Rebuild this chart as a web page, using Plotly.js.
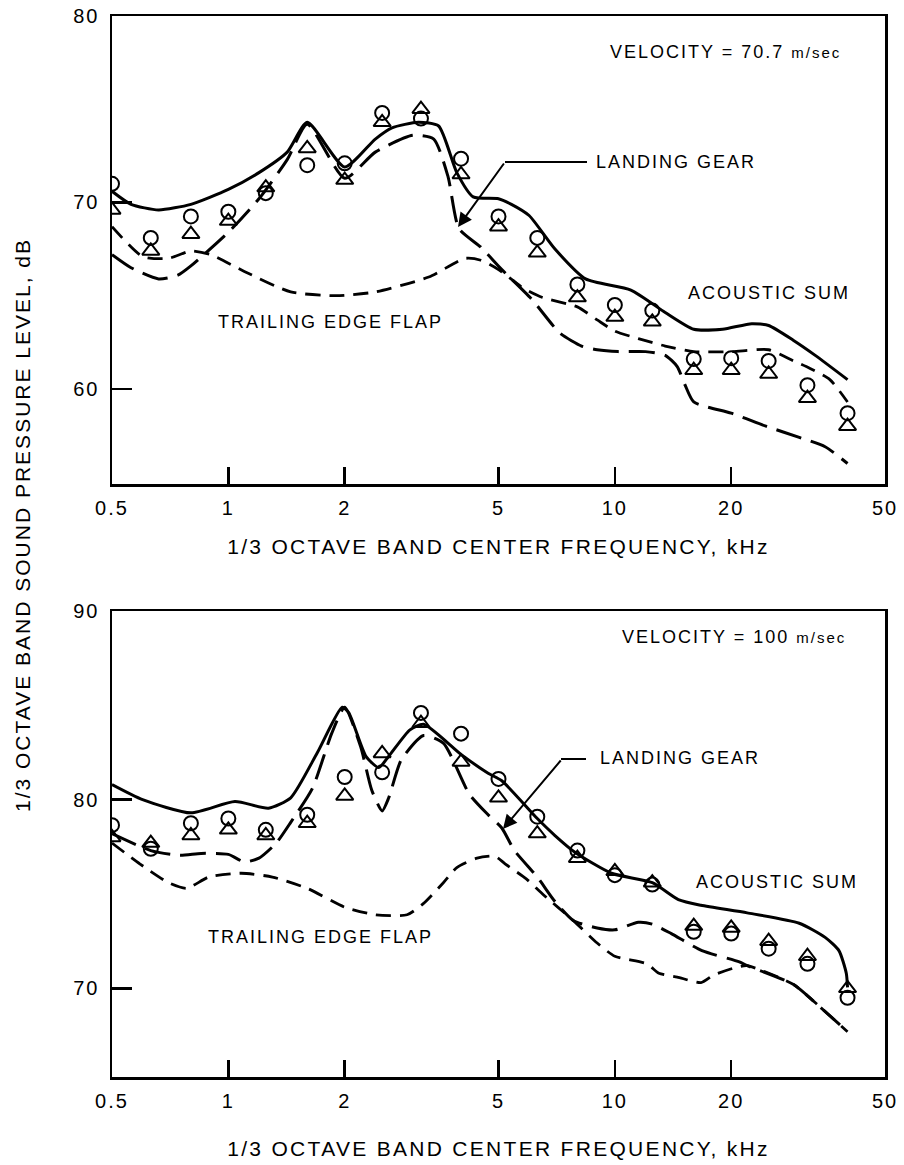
<!DOCTYPE html>
<html><head><meta charset="utf-8">
<script src="https://cdn.plot.ly/plotly-3.0.1.min.js"></script>
<style>
html,body{margin:0;padding:0;background:#fff;}
#chart{width:904px;height:1165px;}
.main-svg text{letter-spacing:2px;}
.main-svg .xtitle, .main-svg .x2title{letter-spacing:2.3px;}
</style></head><body><div id="chart"></div>
<script>
// 1/3 octave band centre frequencies, kHz
const bands = [0.5, 0.63, 0.8, 1, 1.25, 1.6, 2, 2.5, 3.15, 4, 5, 6.3, 8, 10, 12.5, 16, 20, 25, 31.5, 40];
const xTickVals = [0.5, 1, 2, 5, 10, 20, 50];
const xTickText = ['0.5', '1', '2', '5', '10', '20', '50'];

// ---- Velocity = 70.7 m/sec ----
const circles1 = [71.0, 68.1, 69.25, 69.5, 70.5, 72.0, 72.1, 74.8, 74.5, 72.35, 69.25, 68.1, 65.6, 64.5, 64.2, 61.6, 61.65, 61.5, 60.2, 58.7];
const triangles1 = [69.6, 67.4, 68.3, 69.0, 70.8, 72.9, 71.2, 74.3, 75.0, 71.5, 68.7, 67.3, 64.9, 63.85, 63.6, 61.0, 61.0, 60.8, 59.5, 58.0];
const sumF1 = [0.5, 0.56, 0.66, 0.8, 1.0, 1.2, 1.42, 1.6, 2.0, 2.4, 2.65, 3.1, 3.5, 3.9, 4.3, 5.0, 5.4, 6.0, 7.0, 8.4, 11, 13.5, 16, 19, 22.6, 25, 29, 33, 40];
const sumV1 = [70.6, 69.9, 69.6, 69.9, 70.7, 71.6, 72.7, 74.3, 71.9, 73.4, 74.0, 74.3, 74.1, 71.6, 70.3, 70.2, 69.9, 69.3, 67.5, 65.9, 65.3, 64.1, 63.2, 63.2, 63.5, 63.4, 62.6, 61.8, 60.5];
const gearF1 = [0.5, 0.56, 0.66, 0.74, 0.8, 1.0, 1.2, 1.42, 1.6, 2.0, 2.4, 3.0, 3.4, 3.7, 3.95, 4.5, 5.1, 6.1, 7.2, 8.2, 9.0, 10.2, 12, 13.5, 14.5, 15.2, 16, 20, 24.6, 30, 35, 40];
const gearV1 = [67.2, 66.5, 65.9, 66.1, 66.6, 68.4, 70.2, 72.3, 74.2, 71.3, 72.7, 73.6, 73.4, 71.4, 68.6, 67.6, 66.4, 64.8, 63.0, 62.3, 62.1, 62.0, 62.0, 61.8, 61.2, 60.2, 59.3, 58.7, 58.0, 57.4, 56.9, 56.0];
const flapF1 = [0.5, 0.6, 0.7, 0.8, 0.9, 1.1, 1.45, 1.9, 2.4, 3.3, 4.1, 4.5, 5.0, 5.8, 6.5, 8, 9, 10, 11.5, 13.5, 16, 20, 25, 29, 32, 36, 40];
const flapV1 = [68.7, 67.1, 67.0, 67.4, 67.2, 66.3, 65.2, 65.0, 65.2, 66.0, 67.0, 66.9, 66.4, 65.4, 64.9, 64.4, 63.7, 63.1, 62.7, 62.3, 62.0, 62.0, 62.1, 61.5, 61.1, 60.5, 59.3];

// ---- Velocity = 100 m/sec ----
const circles2 = [78.65, 77.4, 78.75, 79.0, 78.4, 79.2, 81.2, 81.45, 84.6, 83.5, 81.1, 79.1, 77.3, 76.0, 75.5, 73.0, 72.9, 72.1, 71.3, 69.5];
const triangles2 = [78.0, 77.7, 78.1, 78.4, 78.1, 78.75, 80.2, 82.45, 84.05, 82.0, 80.1, 78.2, 76.9, 76.2, 75.6, 73.3, 73.2, 72.5, 71.7, 70.0];
const sumF2 = [0.5, 0.6, 0.8, 1.04, 1.27, 1.45, 1.7, 1.97, 2.05, 2.27, 2.45, 2.6, 2.95, 3.2, 4.0, 4.7, 5.1, 6.3, 7.0, 7.9, 9.8, 12.5, 14.6, 16.7, 22, 30, 35, 38, 39.7, 40];
const sumV2 = [80.8, 80.0, 79.3, 79.9, 79.55, 80.1, 82.5, 84.9, 84.6, 82.3, 81.7, 82.3, 83.7, 84.0, 82.4, 81.4, 81.0, 79.0, 78.1, 77.2, 76.1, 75.6, 74.7, 74.4, 74.0, 73.45, 72.7, 72.0, 70.8, 70.05];
const gearF2 = [0.5, 0.63, 0.75, 0.85, 1.0, 1.1, 1.2, 1.33, 1.45, 1.65, 1.85, 2.0, 2.2, 2.35, 2.5, 2.6, 2.8, 3.2, 3.6, 4.2, 4.7, 5.1, 5.5, 6.3, 7.0, 7.8, 9, 10, 11.5, 12.5, 14, 16.8, 21, 22, 29, 34, 40];
const gearV2 = [78.2, 77.3, 77.05, 77.15, 77.1, 76.7, 76.9, 77.7, 78.8, 80.6, 83.5, 84.9, 82.8, 80.5, 79.4, 80.1, 82.1, 83.4, 83.0, 80.3, 79.2, 78.5, 77.3, 75.9, 74.6, 73.6, 73.2, 73.1, 73.5, 73.4, 72.9, 72.0, 71.4, 71.2, 70.2, 69.0, 67.7];
const flapF2 = [0.5, 0.59, 0.7, 0.78, 0.89, 1.08, 1.3, 1.6, 2.0, 2.4, 2.9, 3.2, 3.6, 3.9, 4.4, 4.9, 5.2, 5.9, 6.5, 7.8, 9, 10, 12.1, 13, 14.5, 16.7, 18, 20.5, 22, 29, 34, 40];
const flapV2 = [77.7, 76.6, 75.6, 75.3, 75.9, 76.1, 75.9, 75.3, 74.3, 73.9, 73.9, 74.5, 75.6, 76.4, 76.9, 77.0, 76.6, 75.8, 75.0, 73.6, 72.4, 71.7, 71.3, 70.8, 70.6, 70.3, 70.7, 71.1, 71.2, 70.2, 69.0, 67.7];

const FONT = 'Liberation Sans, Arial, Helvetica, sans-serif';
const BLACK = '#000';

function curve(x, y, dash, xa, ya, w) {
  return {x: x, y: y, xaxis: xa, yaxis: ya, mode: 'lines', type: 'scatter', hoverinfo: 'skip',
    line: {color: BLACK, width: w || 2.8, dash: dash, shape: 'spline', smoothing: 0.6}};
}
function marks(x, y, sym, size, xa, ya) {
  return {x: x, y: y, xaxis: xa, yaxis: ya, mode: 'markers', type: 'scatter', hoverinfo: 'skip',
    marker: {symbol: sym, size: size, color: BLACK, line: {color: BLACK, width: 2}}};
}

const data = [
  curve(sumF1, sumV1, 'solid', 'x', 'y', 3),
  curve(gearF1, gearV1, '26px,10px', 'x', 'y', 3),
  curve(flapF1, flapV1, '15px,9px', 'x', 'y', 2.8),
  marks(bands, circles1, 'circle-open', 14, 'x', 'y'),
  marks(bands, triangles1, 'triangle-up-open', 15, 'x', 'y'),
  curve(sumF2, sumV2, 'solid', 'x2', 'y2', 3),
  curve(gearF2, gearV2, '26px,10px', 'x2', 'y2', 3),
  curve(flapF2, flapV2, '15px,9px', 'x2', 'y2', 2.8),
  marks(bands, circles2, 'circle-open', 14, 'x2', 'y2'),
  marks(bands, triangles2, 'triangle-up-open', 15, 'x2', 'y2')
];

function xAxis(anchor, standoff) {
  return {type: 'log', anchor: anchor, domain: [0, 1],
    range: [Math.log10(0.5), Math.log10(50)],
    tickmode: 'array', tickvals: xTickVals, ticktext: xTickText,
    ticks: 'inside', ticklen: 17, tickwidth: 2.5, tickcolor: BLACK,
    showline: true, linewidth: 2.5, linecolor: BLACK, mirror: true,
    showgrid: false, zeroline: false, ticklabelstandoff: 4,
    tickfont: {family: FONT, size: 20, color: BLACK},
    title: {text: '1/3 OCTAVE BAND CENTER FREQUENCY, kHz', standoff: standoff,
      font: {family: FONT, size: 21, color: BLACK}}};
}
function yAxis(anchor, domain, range, vals) {
  return {anchor: anchor, domain: domain, range: range,
    tickmode: 'array', tickvals: vals, ticktext: vals.map(String),
    ticks: 'inside', ticklen: 20, tickwidth: 2.5, tickcolor: BLACK,
    showline: true, linewidth: 2.5, linecolor: BLACK, mirror: true,
    showgrid: false, zeroline: false, ticklabelstandoff: 6,
    tickfont: {family: FONT, size: 20, color: BLACK}};
}

const PL = 112, PR = 885, PT = 16, PB = 1077, PH = PB - PT, PW = PR - PL;
const px = v => (v - PL) / PW;
const py = v => (PB - v) / PH;

function label(text, cx, y, size) {
  return {text: text, xref: 'paper', yref: 'paper', x: px(cx), y: py(y), xanchor: 'center', yanchor: 'middle',
    showarrow: false, font: {family: FONT, size: size || 18, color: BLACK}};
}
function arrow(tipX, tipY, tailX, tailY) {
  return {text: '', xref: 'paper', yref: 'paper', x: px(tipX), y: py(tipY),
    ax: tailX - tipX, ay: tailY - tipY, showarrow: true, arrowhead: 2, arrowsize: 1.4,
    arrowwidth: 2, arrowcolor: BLACK};
}

const annotations = [
  label('VELOCITY = 70.7 <span style="font-size:15px">m/sec</span>', 726, 52),
  label('LANDING GEAR', 676, 162),
  label('ACOUSTIC SUM', 769, 293),
  label('TRAILING EDGE FLAP', 330, 322),
  arrow(458, 227, 505, 162),
  label('VELOCITY = 100 <span style="font-size:15px">m/sec</span>', 734, 637),
  label('LANDING GEAR', 680, 758),
  label('ACOUSTIC SUM', 777, 882),
  label('TRAILING EDGE FLAP', 320, 937),
  arrow(503, 829, 562, 759),
  {text: '1/3 OCTAVE BAND SOUND PRESSURE LEVEL, dB', xref: 'paper', yref: 'paper',
    x: px(22), y: py(525), xanchor: 'center', yanchor: 'middle', textangle: -90, showarrow: false,
    font: {family: FONT, size: 21, color: BLACK}}
];

const shapes = [
  {type: 'line', xref: 'paper', yref: 'paper', x0: px(505), x1: px(587), y0: py(162), y1: py(162), line: {color: BLACK, width: 2}},
  {type: 'line', xref: 'paper', yref: 'paper', x0: px(561), x1: px(586), y0: py(759), y1: py(759), line: {color: BLACK, width: 2}}
];

const layout = {
  width: 904, height: 1165, showlegend: false,
  margin: {l: PL, r: 904 - PR, t: PT, b: 1165 - PB, pad: 0},
  paper_bgcolor: '#fff', plot_bgcolor: '#fff',
  font: {family: FONT, color: BLACK},
  xaxis: xAxis('y', 22),
  yaxis: yAxis('x', [py(484), 1], [54.9, 80], [60, 70, 80]),
  xaxis2: xAxis('y2', 31),
  yaxis2: yAxis('x2', [0, py(611)], [65.3, 90], [70, 80, 90]),
  annotations: annotations,
  shapes: shapes
};

Plotly.newPlot('chart', data, layout, {displayModeBar: false, staticPlot: true});
</script></body></html>
